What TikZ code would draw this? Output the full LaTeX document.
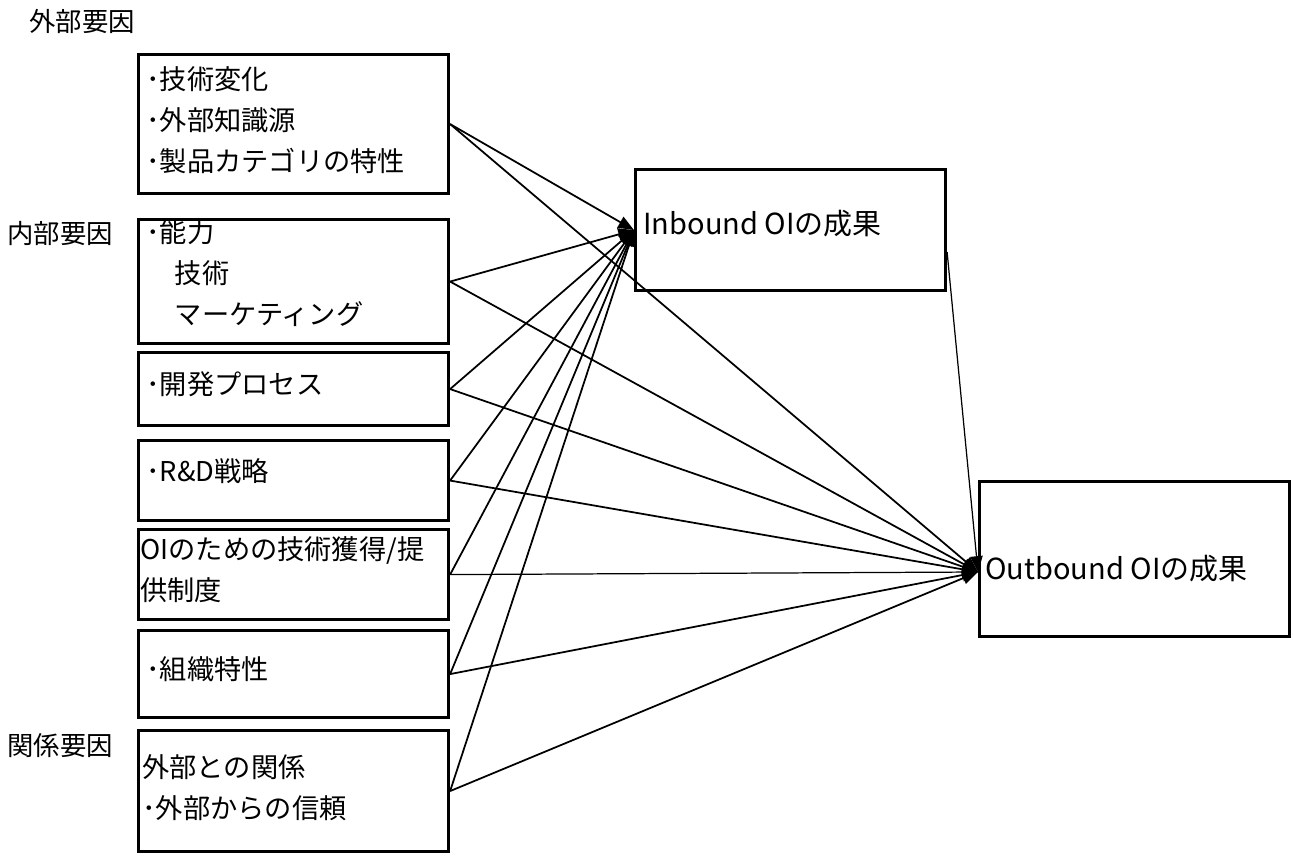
\documentclass[tikz,border=0pt]{standalone}
\usepackage{fontspec}
\setmainfont{Noto Sans CJK JP}
\usetikzlibrary{arrows.meta}

\begin{document}
\begin{tikzpicture}[x=0.02cm,y=-0.02cm,
  box/.style={draw=black,line width=1.8pt,rectangle,anchor=north west,minimum width=6.2cm,inner sep=0pt},
  txt/.style={anchor=north west,align=left,inner sep=0pt,font=\fontsize{15.5}{23.5}\selectfont},
  lbl/.style={inner sep=0pt,font=\fontsize{15}{18}\selectfont},
  conn/.style={line width=1pt,-{Triangle[length=9pt,width=7pt]}}]
\useasboundingbox (0,0) rectangle (1293,855);
\node[box,minimum height=2.78cm] (ext) at (137,53) {};
\node[box,minimum height=2.48cm] (cap) at (137,218) {};
\node[box,minimum height=1.46cm] (proc) at (137,351) {};
\node[box,minimum height=1.6cm] (rnd) at (137,439) {};
\node[box,minimum height=1.8cm] (sys) at (137,528) {};
\node[box,minimum height=1.74cm] (org) at (137,629) {};
\node[box,minimum height=2.42cm] (rel) at (137,729) {};
\node[box,minimum height=2.42cm] (inb) at (634,168) {};
\node[box,minimum height=3.1cm] (outb) at (978,480) {};
\coordinate (outtip) at (978,572);
\node[lbl] (lext) at (82,22) {外部要因};
\node[lbl] (lint) at (60,234) {内部要因};
\node[lbl] (lrel) at (60,746) {関係要因};
\node[txt] (text) at (146,66) {･技術変化\\･外部知識源\\･製品カテゴリの特性};
\node[txt] (tcap) at (146,219) {･能力\\\hspace*{1.05em}技術\\\hspace*{1.05em}マーケティング};
\node[txt] (tproc) at (146,371) {･開発プロセス};
\node[txt] (trnd) at (146,458) {･R\&D戦略};
\node[txt] (tsys) at (140,536) {OIのための技術獲得/提\\供制度};
\node[txt] (torg) at (146,656) {･組織特性};
\node[txt] (trel) at (142,754) {外部との関係\\･外部からの信頼};
\node[txt,font=\fontsize{16.5}{20}\selectfont] (tinb) at (643,210) {Inbound OIの成果};
\node[txt,font=\fontsize{16.5}{20}\selectfont] (toutb) at (985,555) {Outbound OIの成果};
\draw[conn] (ext.east) -- (inb.west);
\draw[conn] (ext.east) -- (outtip);
\draw[conn] (cap.east) -- (inb.west);
\draw[conn] (cap.east) -- (outtip);
\draw[conn] (proc.east) -- (inb.west);
\draw[conn] (proc.east) -- (outtip);
\draw[conn] (rnd.east) -- (inb.west);
\draw[conn] (rnd.east) -- (outtip);
\draw[conn] (sys.east) -- (inb.west);
\draw[conn,line width=0.7pt] (sys.east) -- (outtip);
\draw[conn] (org.east) -- (inb.west);
\draw[conn] (org.east) -- (outtip);
\draw[conn] (rel.east) -- (inb.west);
\draw[conn] (rel.east) -- (outtip);
\draw[conn,line width=0.7pt] (inb.-8) -- (outtip);
\end{tikzpicture}
\end{document}
